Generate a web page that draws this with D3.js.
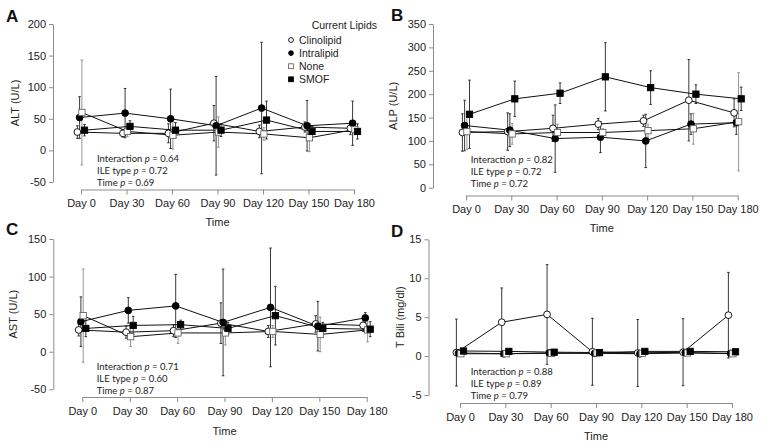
<!DOCTYPE html>
<html>
<head>
<meta charset="utf-8">
<script src="https://cdn.jsdelivr.net/npm/d3@7"></script>
<style>
  body { margin: 0; background: #fff; }
  svg { display: block; }
  .axis path, .axis line { stroke: #8c8c8c; }
  .axis text { font-family: "Liberation Sans", Arial, sans-serif; font-size: 11px; fill: #222; }
  .title { font-family: "Liberation Sans", Arial, sans-serif; font-size: 11px; fill: #222; }
  .panel-label { font-family: "Liberation Sans", Arial, sans-serif; font-size: 17px; font-weight: bold; fill: #111; }
  .note { font-family: Lato, "Open Sans", sans-serif; font-size: 9.5px; fill: #222; }
  .legend text { font-family: "Liberation Sans", Arial, sans-serif; font-size: 10.5px; fill: #222; }
</style>
</head>
<body>
<script>
// time points and groups
var days = ["Day 0", "Day 30", "Day 60", "Day 90", "Day 120", "Day 150", "Day 180"]
var lipids = ["Clinolipid", "Intralipid", "None", "SMOF"]

// ALT (U/L): one row per lipid, in the order above
var altMean = [
    [29, 27, 27, 43, 30, 37, 35],
    [52, 59, 50, 39, 67, 39, 43],
    [60, 30, 24, 29, 26, 20, 33],
    [32, 38, 32, 32, 48, 30, 30]
]
var altSd = [
    [10, 6, 15, 28, 10, 8, 10],
    [33, 39, 47, 78, 104, 40, 35],
    [83, 8, 22, 24, 10, 22, 8],
    [9, 9, 12, 10, 30, 8, 12]
]
var altTicks = [-50, 0, 50, 100, 150, 200]
var altP = ["0.64", "0.72", "0.69"]

// ALP (U/L)
var alpMean = [
    [118, 120, 127, 136, 143, 187, 160],
    [133, 123, 105, 108, 100, 136, 139],
    [120, 115, 118, 118, 122, 126, 141],
    [157, 190, 202, 237, 214, 200, 190]
]
var alpSd = [
    [40, 40, 28, 12, 12, 87, 30],
    [54, 35, 72, 33, 57, 22, 25],
    [38, 22, 18, 8, 14, 33, 105],
    [73, 38, 22, 73, 36, 20, 25]
]
var alpTicks = [0, 50, 100, 150, 200, 250, 300, 350]
var alpP = ["0.82", "0.72", "0.72"]

// AST (U/L)
var astMean = [
    [29, 26, 28, 38, 27, 37, 35],
    [40, 55, 61, 39, 59, 34, 45],
    [48, 20, 25, 25, 27, 23, 29],
    [31, 35, 36, 31, 48, 31, 30]
]
var astSd = [
    [8, 8, 8, 27, 8, 11, 8],
    [33, 17, 42, 71, 79, 33, 7],
    [62, 13, 14, 16, 8, 23, 16],
    [11, 12, 6, 8, 39, 8, 10]
]
var astTicks = [-50, 0, 50, 100, 150]
var astP = ["0.71", "0.60", "0.87"]

// T Bili (mg/dl)
var biliMean = [
    [0.45, 4.35, 5.35, 0.55, 0.4, 0.5, 5.25],
    [0.4, 0.3, 0.4, 0.35, 0.3, 0.45, 0.35],
    [0.3, 0.3, 0.35, 0.4, 0.35, 0.4, 0.3],
    [0.65, 0.6, 0.5, 0.45, 0.6, 0.6, 0.55]
]
var biliSd = [
    [4.3, 4.4, 6.4, 4.3, 4.3, 4.3, 5.5],
    [0.2, 0.2, 0.2, 0.2, 0.2, 0.2, 0.2],
    [0.2, 0.2, 0.2, 0.2, 0.2, 0.2, 0.2],
    [0.2, 0.2, 0.2, 0.2, 0.2, 0.2, 0.2]
]
var biliTicks = [-5, 0, 5, 10, 15]
var biliP = ["0.88", "0.89", "0.79"]

var width = 765, height = 447

// layout of the four panels (pixels)
var panels = [
    { id: "A", mean: altMean, sd: altSd, ticks: altTicks, p: altP, ytitle: "ALT (U/L)",
      yDomain: [-50, 200], yRange: [182, 24], axisX: 53, xRange: [81, 354], axisY: 189.5,
      labelPos: [6, 22], ytitleX: 15, timeY: 226, notePos: [97, 161.5] },
    { id: "B", mean: alpMean, sd: alpSd, ticks: alpTicks, p: alpP, ytitle: "ALP (U/L)",
      yDomain: [0, 350], yRange: [187.7, 24], axisX: 433, xRange: [466, 737.7], axisY: 195.5,
      labelPos: [391, 21], ytitleX: 393, timeY: 232, notePos: [470.7, 162.5] },
    { id: "C", mean: astMean, sd: astSd, ticks: astTicks, p: astP, ytitle: "AST (U/L)",
      yDomain: [-50, 150], yRange: [389.3, 239], axisX: 53.3, xRange: [82.3, 366.7], axisY: 397,
      labelPos: [6, 235], ytitleX: 13, timeY: 435, notePos: [96.7, 369.5] },
    { id: "D", mean: biliMean, sd: biliSd, ticks: biliTicks, p: biliP, ytitle: "T Bili (mg/dl)",
      yDomain: [-5, 15], yRange: [395, 239.3], axisX: 428.5, xRange: [460, 732], axisY: 403,
      labelPos: [391, 237], ytitleX: 400, timeY: 440, notePos: [470.7, 374.5] }
]

var dodge = [-3.6, -1.4, 0.9, 3.5]
var barColor = ["#222", "#222", "#8a8a8a", "#222"]

var svg = d3.select("body").append("svg")
    .attr("width", width)
    .attr("height", height)

panels.forEach(drawPanel)
drawLegend()

function drawMarker(sel, i, r, s) {
    if (i < 2) {
        sel.append("circle")
            .attr("r", r)
            .attr("fill", i === 0 ? "#fff" : "#000")
            .attr("stroke", "#000")
            .attr("stroke-width", 0.9)
    } else {
        sel.append("rect")
            .attr("x", -s / 2).attr("y", -s / 2)
            .attr("width", s).attr("height", s)
            .attr("fill", i === 2 ? "#fff" : "#000")
            .attr("stroke", i === 2 ? "#666" : "#000")
            .attr("stroke-width", 0.9)
    }
}

function drawPanel(cfg) {
    var g = svg.append("g").attr("class", "panel-" + cfg.id)

    var x = d3.scalePoint().domain(days).range(cfg.xRange)
    var y = d3.scaleLinear().domain(cfg.yDomain).range(cfg.yRange)

    // plain hyphen for negatives, like the original
    var yAxis = d3.axisLeft(y)
        .tickValues(cfg.ticks)
        .tickFormat(function(d) { return String(d) })
        .tickSize(4)
        .tickSizeOuter(0)
        .tickPadding(3)

    g.append("g")
        .attr("class", "axis y")
        .attr("transform", "translate(" + cfg.axisX + ",0)")
        .call(yAxis)

    var xAxis = d3.axisBottom(x)
        .tickSize(5)
        .tickSizeOuter(0)
        .tickPadding(5)

    g.append("g")
        .attr("class", "axis x")
        .attr("transform", "translate(0," + cfg.axisY + ")")
        .call(xAxis)

    g.selectAll(".axis .domain").attr("stroke", "#8c8c8c")

    // axis titles
    var yMid = (cfg.yRange[0] + cfg.yRange[1]) / 2
    g.append("text")
        .attr("class", "title")
        .attr("transform", "translate(" + cfg.ytitleX + "," + yMid + ") rotate(-90)")
        .attr("text-anchor", "middle")
        .attr("dy", "0.35em")
        .text(cfg.ytitle)

    g.append("text")
        .attr("class", "title")
        .attr("x", (cfg.xRange[0] + cfg.xRange[1]) / 2)
        .attr("y", cfg.timeY)
        .attr("text-anchor", "middle")
        .text("Time")

    g.append("text")
        .attr("class", "panel-label")
        .attr("x", cfg.labelPos[0])
        .attr("y", cfg.labelPos[1])
        .text(cfg.id)

    // error bars
    lipids.forEach(function(name, i) {
        var pts = days.map(function(d, j) {
            return { day: d, m: cfg.mean[i][j], s: cfg.sd[i][j] }
        })
        var bars = g.append("g").attr("class", "err")
            .selectAll("g").data(pts).enter().append("g")
            .attr("stroke", barColor[i])
            .attr("stroke-width", 0.9)
        bars.append("line")
            .attr("x1", function(d) { return x(d.day) + dodge[i] })
            .attr("x2", function(d) { return x(d.day) + dodge[i] })
            .attr("y1", function(d) { return y(d.m - d.s) })
            .attr("y2", function(d) { return y(d.m + d.s) })
        ;[-1, 1].forEach(function(k) {
            bars.append("line")
                .attr("x1", function(d) { return x(d.day) + dodge[i] - 1.3 })
                .attr("x2", function(d) { return x(d.day) + dodge[i] + 1.3 })
                .attr("y1", function(d) { return y(d.m + k * d.s) })
                .attr("y2", function(d) { return y(d.m + k * d.s) })
        })
    })

    // connecting lines
    var line = d3.line()
        .x(function(d) { return x(d.day) + d.off })
        .y(function(d) { return y(d.m) })

    lipids.forEach(function(name, i) {
        var pts = days.map(function(d, j) { return { day: d, m: cfg.mean[i][j], off: dodge[i] } })
        g.append("path")
            .datum(pts)
            .attr("fill", "none")
            .attr("stroke", "#111")
            .attr("stroke-width", 1)
            .attr("d", line)
    })

    // markers
    lipids.forEach(function(name, i) {
        var pts = days.map(function(d, j) { return { day: d, m: cfg.mean[i][j] } })
        g.append("g").selectAll("g").data(pts).enter().append("g")
            .attr("transform", function(d) {
                return "translate(" + (x(d.day) + dodge[i]) + "," + y(d.m) + ")"
            })
            .each(function() { drawMarker(d3.select(this), i, 3.4, 6.3) })
    })

    // p values
    var labels = ["Interaction ", "ILE type ", "Time "]
    labels.forEach(function(lab, k) {
        var t = g.append("text")
            .attr("class", "note")
            .attr("x", cfg.notePos[0])
            .attr("y", cfg.notePos[1] + k * 12.2)
        t.append("tspan").text(lab)
        t.append("tspan").attr("font-style", "italic").text("p")
        t.append("tspan").text(" = " + cfg.p[k])
    })
}

function drawLegend() {
    var lg = svg.append("g").attr("class", "legend")
    lg.append("text")
        .attr("x", 377)
        .attr("y", 29)
        .attr("text-anchor", "end")
        .text("Current Lipids")

    var items = lg.selectAll(".item").data(lipids).enter().append("g")
        .attr("class", "item")
        .attr("transform", function(d, i) { return "translate(291," + (40 + i * 13.1) + ")" })

    items.each(function(d, i) { drawMarker(d3.select(this), i, 2.4, 4.8) })

    items.append("text")
        .attr("x", 8)
        .attr("dy", "0.35em")
        .text(function(d) { return d })
}
</script>
</body>
</html>
